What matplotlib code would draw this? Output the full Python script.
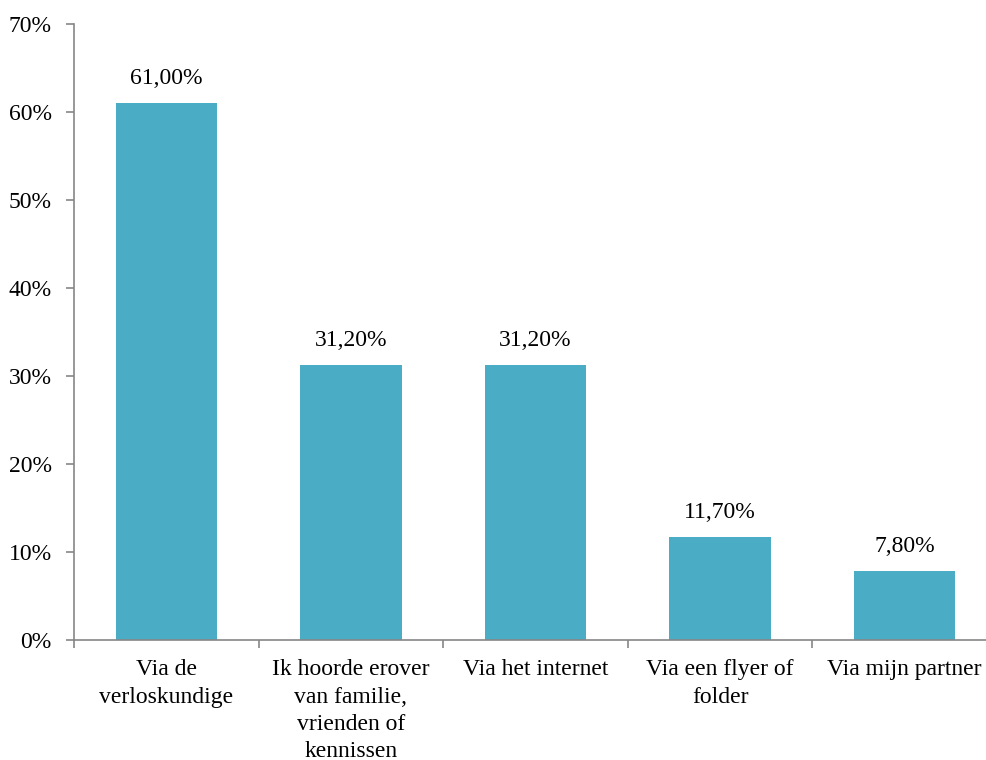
import matplotlib.pyplot as plt
from matplotlib.ticker import PercentFormatter

plt.rcParams['font.family'] = ['Liberation Serif', 'DejaVu Serif']

categories = [
    "Via de\nverloskundige",
    "Ik hoorde erover\nvan familie,\nvrienden of\nkennissen",
    "Via het internet",
    "Via een flyer of\nfolder",
    "Via mijn partner",
]
values = [61.0, 31.2, 31.2, 11.7, 7.8]
value_labels = ["61,00%", "31,20%", "31,20%", "11,70%", "7,80%"]

fig = plt.figure(figsize=(9.87, 7.6), dpi=100)
ax = fig.add_axes([74 / 987, 120 / 760, 923 / 987, 616 / 760])

x = range(len(categories))
bars = ax.bar(x, values, width=0.55, color="#4BACC6", zorder=2)

for rect, lab in zip(bars, value_labels):
    ax.text(rect.get_x() + rect.get_width() / 2, rect.get_height() + 1.6, lab,
            ha="center", va="bottom", fontsize=17)

ax.set_xlim(-0.5, len(categories) - 0.5)
ax.set_ylim(0, 70)
ax.set_yticks(range(0, 71, 10))
ax.yaxis.set_major_formatter(PercentFormatter(decimals=0))

# category labels centred, tick marks between categories
ax.set_xticks(list(x))
ax.set_xticklabels(categories, fontsize=17, linespacing=1.38, va="top")
ax.tick_params(axis="x", which="major", length=0, pad=14)
ax.set_xticks([i - 0.5 for i in range(len(categories) + 1)], minor=True)
ax.tick_params(axis="x", which="minor", length=6, color="#868686", width=1.2)
ax.tick_params(axis="y", length=6, color="#868686", width=1.2, labelsize=17, pad=10)

for side in ["top", "right"]:
    ax.spines[side].set_visible(False)
for side in ["left", "bottom"]:
    ax.spines[side].set_color("#868686")
    ax.spines[side].set_linewidth(1.2)

fig.savefig("out.png", dpi=100)
